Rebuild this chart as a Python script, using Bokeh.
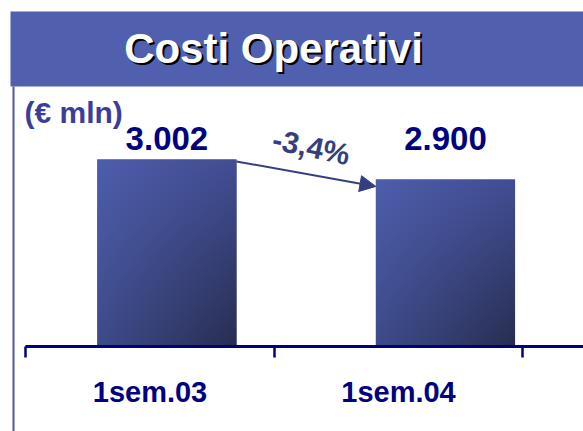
import numpy as np
from bokeh.plotting import figure
from bokeh.models import Range1d, LinearAxis, FixedTicker, Arrow, NormalHead, BoxAnnotation
from bokeh.core.properties import value
from bokeh.embed import file_html
from bokeh.resources import INLINE

# ---------------- data ----------------
categories = ["1sem.03", "1sem.04"]
costs = [3002, 2900]
cost_labels = ["3.002", "2.900"]
title_text = "Costi Operativi"
unit_text = "(€ mln)"

pct = (costs[1] - costs[0]) / costs[0] * 100
pct_label = f"{pct:+.1f}%".replace(".", ",")

# ---------------- layout / style ----------------
W, H = 583, 431
PAGE = 0
FONT = value("Liberation Sans")
NAVY = "#000080"
BANNER = "#5060AE"
UNIT_C = "#3A3D9C"
ARROW_C = "#353F80"

UNIT_PX = 248.5          # px per category
CAT0_PX = 149.5          # page x of first category centre
Y_BASE = 2050            # value at the baseline
PX_PER_VAL = 187 / 952   # vertical scale
BASE_PX = 346            # page y of baseline

BAR_PITCH = 1.121
BAR_OFFSET = 0.068
BAR_WIDTH = 0.56


def px2x(px):
    return (px - CAT0_PX) / UNIT_PX


def px2y(py):
    return Y_BASE + (BASE_PX - py) / PX_PER_VAL


x0, x1 = px2x(PAGE), px2x(PAGE + W)
y1, y0 = px2y(PAGE), px2y(PAGE + H)

p = figure(width=W, height=H, x_range=Range1d(x0, x1), y_range=Range1d(y0, y1),
           x_axis_type=None, y_axis_type=None, toolbar_location=None,
           output_backend="svg", min_border=0, min_border_left=0, min_border_right=0,
           min_border_top=0, min_border_bottom=0)
p.outline_line_color = None
p.grid.visible = False
p.background_fill_color = "white"
p.border_fill_color = "white"

# banner
p.add_layout(BoxAnnotation(left=px2x(10), right=x1 + 1, top=px2y(11), bottom=px2y(86),
                           fill_color=BANNER, fill_alpha=1, line_color=None, level="underlay"))
# left vertical rule
p.segment(x0=[px2x(13)], y0=[px2y(86)], x1=[px2x(13)], y1=[y0 - 100],
          line_color="#5058A8", line_width=2)

# title with shadow
p.text(x=[px2x(273)], y=[px2y(48)], text=[title_text], text_font=FONT,
       text_font_style="bold", text_font_size="42px", text_color="black",
       text_align="center", text_baseline="middle", x_offset=2, y_offset=2)
p.text(x=[px2x(273)], y=[px2y(48)], text=[title_text], text_font=FONT,
       text_font_style="bold", text_font_size="42px", text_color="white",
       text_align="center", text_baseline="middle")

# unit label
p.text(x=[px2x(24)], y=[px2y(112)], text=[unit_text], text_font=FONT,
       text_font_style="bold", text_font_size="30px", text_color=UNIT_C,
       text_align="left", text_baseline="middle")

# bars
bar_x = [i * BAR_PITCH + BAR_OFFSET for i in range(len(categories))]
p.vbar(x=bar_x, top=costs, bottom=Y_BASE, width=BAR_WIDTH,
       fill_color="#3E4A8C", line_color=None)

TL = np.array([78, 94, 172]); TR = np.array([66, 78, 148])
BL = np.array([62, 75, 138]); BR = np.array([40, 46, 80])


def gradient(nx, ny):
    u = np.linspace(0, 1, nx)[None, :, None]
    t = np.linspace(0, 1, ny)[:, None, None]  # row 0 bottom
    col = (1 - u) * (t * TL + (1 - t) * BL) + u * (t * TR + (1 - t) * BR)
    img = np.empty((ny, nx), dtype=np.uint32)
    v = img.view(dtype=np.uint8).reshape((ny, nx, 4))
    v[..., :3] = np.clip(col, 0, 255).astype(np.uint8)
    v[..., 3] = 255
    return img


for bx, c in zip(bar_x, costs):
    ny = int(round((c - Y_BASE) * PX_PER_VAL))
    nx = int(round(BAR_WIDTH * UNIT_PX))
    p.image_rgba(image=[gradient(nx, ny)], x=bx - BAR_WIDTH / 2, y=Y_BASE,
                 dw=BAR_WIDTH, dh=c - Y_BASE)

# value labels
p.text(x=bar_x, y=[max(costs)] * len(costs), text=cost_labels, text_font=FONT,
       text_font_style="bold", text_font_size="33px", text_color=NAVY,
       text_align="center", text_baseline="middle", y_offset=-21)

# arrow with change
xs = bar_x[0] + BAR_WIDTH / 2
xe = bar_x[1] - BAR_WIDTH / 2
ys = costs[0] - 10
ye = costs[1] - 35
p.add_layout(Arrow(end=NormalHead(size=16, fill_color=ARROW_C, line_color=ARROW_C),
                   x_start=xs, y_start=ys, x_end=xe, y_end=ye,
                   line_color=ARROW_C, line_width=2))
p.text(x=[(xs + xe) / 2], y=[(ys + ye) / 2], text=[pct_label], text_font=FONT,
       text_font_style="bold", text_font_size="30px", text_color=ARROW_C,
       text_align="center", text_baseline="middle", angle=-0.21, y_offset=-27, x_offset=5)

# x axis
xaxis = LinearAxis(fixed_location=Y_BASE, bounds=(-0.5, x1),
                   ticker=FixedTicker(ticks=list(range(len(categories))),
                                      minor_ticks=[i - 0.5 for i in range(len(categories) + 1)]),
                   major_label_overrides={i: c for i, c in enumerate(categories)})
xaxis.axis_line_color = NAVY
xaxis.axis_line_width = 3
xaxis.major_tick_out = 0
xaxis.major_tick_in = 0
xaxis.minor_tick_out = 11
xaxis.minor_tick_in = 0
xaxis.minor_tick_line_color = NAVY
xaxis.minor_tick_line_width = 2.5
xaxis.major_label_text_font = "Liberation Sans"
xaxis.major_label_text_font_style = "bold"
xaxis.major_label_text_font_size = "29px"
xaxis.major_label_text_color = NAVY
xaxis.major_label_standoff = 18
p.add_layout(xaxis, "below")

open("out.html", "w").write(file_html(p, INLINE))
